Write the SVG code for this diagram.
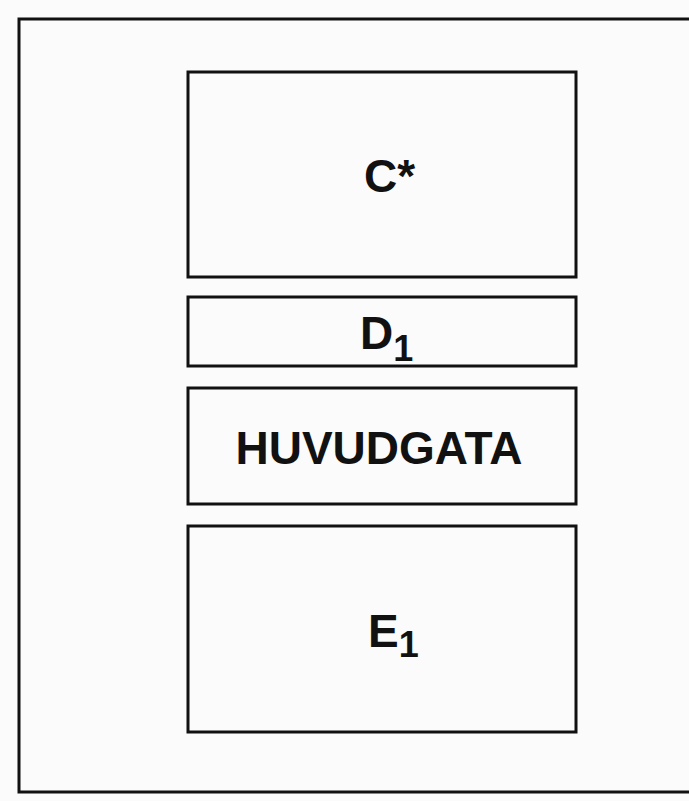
<svg xmlns="http://www.w3.org/2000/svg" width="689" height="801" viewBox="0 0 689 801">
<style>
.box{fill:none;stroke:#111;stroke-width:3}
.lbl{font-family:"Liberation Sans",Arial,sans-serif;font-size:46px;font-weight:bold;fill:#111}
.sub{font-size:36px}
</style>
<rect width="689" height="801" fill="#fbfbfb"/>
<g id="frame"><path class="box" d="M700,19 H19 V792 H700"/></g>
<g id="c-star"><rect class="box" x="188" y="72" width="388" height="205"/><text class="lbl" x="364" y="192">C*</text></g>
<g id="d1"><rect class="box" x="188" y="297" width="388" height="69"/><text class="lbl" x="360" y="349">D<tspan class="sub" dy="12">1</tspan></text></g>
<g id="huvudgata"><rect class="box" x="188" y="388" width="388" height="116"/><text class="lbl" x="379" y="464" text-anchor="middle">HUVUDGATA</text></g>
<g id="e1"><rect class="box" x="188" y="526" width="388" height="206"/><text class="lbl" x="368" y="647">E<tspan class="sub" dy="10">1</tspan></text></g>
<g id="connectors"/>
</svg>
